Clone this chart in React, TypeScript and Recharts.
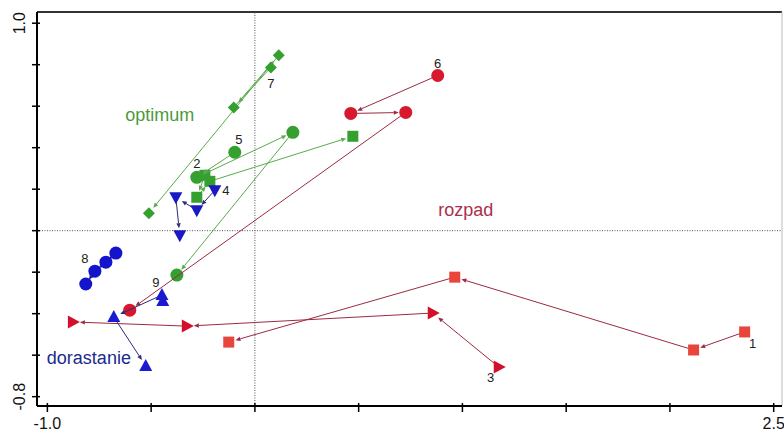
import React from "react";
import {
  ScatterChart,
  Scatter,
  XAxis,
  YAxis,
  ReferenceLine,
} from "recharts";

// trajectories, [axis 1, axis 2] in time order
const traj1 = [[2.36, -0.488], [2.114, -0.575], [0.963, -0.224], [-0.126, -0.537]];
const traj2 = [[-0.241, 0.267], [-0.28, 0.161], [-0.217, 0.238], [0.472, 0.455]];
const traj3 = [[1.175, -0.657], [0.857, -0.397], [-0.328, -0.46], [-0.877, -0.44]];
const traj4 = [[-0.193, 0.195], [-0.28, 0.099], [-0.381, 0.161], [-0.362, -0.022]];
const traj5 = [[-0.097, 0.378], [-0.28, 0.257], [0.183, 0.474], [-0.376, -0.214]];
const traj6 = [[0.881, 0.748], [0.462, 0.565], [0.727, 0.57], [-0.603, -0.383]];
const traj7 = [[0.077, 0.787], [-0.102, 0.594], [0.115, 0.845], [-0.511, 0.084]];
const traj8 = [[-0.67, -0.108], [-0.718, -0.152], [-0.771, -0.195], [-0.815, -0.257]];
const traj9 = [[-0.444, -0.339], [-0.448, -0.31], [-0.68, -0.416], [-0.526, -0.652]];

// which point of each trajectory carries its number
const tagIndex = [0, 0, 0, 0, 0, 0, 0, 2, 1];

const groupNames = ["optimum", "rozpad", "dorastanie"];
const groupPos = [[-0.458, 0.556], [1.016, 0.099], [-0.8, -0.614]];

const xTicks = [-1, -0.5, 0, 0.5, 1, 1.5, 2, 2.5];
const xTickLabels = ["-1.0", "", "", "", "", "", "", "2.5"];
const yTicks = [-0.8, -0.6, -0.4, -0.2, 0, 0.2, 0.4, 0.6, 0.8, 1.0];
const yTickLabels = ["-0.8", "", "", "", "", "", "", "", "", "1.0"];

const X_DOMAIN = [-1.05, 2.54];
const Y_DOMAIN = [-0.845, 1.054];
const FONT = "'Liberation Sans', Arial, sans-serif";

const RED_LINE = "#9c2a40";
const GREEN_LINE = "#5aaa4e";
const BLUE_LINE = "#2c2c78";

const styles = [
  { kind: "square", fill: "#e8453c", line: RED_LINE, dx: 8, dy: 12 },
  { kind: "square", fill: "#35a02f", line: GREEN_LINE, dx: -8, dy: -12 },
  { kind: "triRight", fill: "#d3102c", line: RED_LINE, dx: -8, dy: 11 },
  { kind: "triDown", fill: "#1a1ac4", line: BLUE_LINE, dx: 11, dy: 0 },
  { kind: "circle", fill: "#35a02f", line: GREEN_LINE, dx: 4, dy: -13 },
  { kind: "circle", fill: "#d8182c", line: RED_LINE, dx: 0, dy: -12 },
  { kind: "diamond", fill: "#35a02f", line: GREEN_LINE, dx: 0, dy: 16 },
  { kind: "circle", fill: "#1414cc", line: BLUE_LINE, dx: -10, dy: -13 },
  { kind: "triUp", fill: "#1a1ad0", line: BLUE_LINE, dx: -6, dy: -12 },
];
const groupColors = ["#4a9a3c", "#a8304c", "#1c2a8c"];

const trajectories = [traj1, traj2, traj3, traj4, traj5, traj6, traj7, traj8, traj9];

function toRows(pts: number[][], tagAt: number, tag: string) {
  return pts.map(([x, y], i) => ({ x, y, tag: i === tagAt ? tag : "" }));
}

function Marker(props: any) {
  const { cx, cy, kind, fill, dx, dy, payload } = props;
  let mark = null;
  if (kind === "circle") mark = <circle cx={cx} cy={cy} r={6.5} fill={fill} />;
  if (kind === "square")
    mark = <rect x={cx - 5.5} y={cy - 5.5} width={11} height={11} fill={fill} />;
  if (kind === "diamond")
    mark = (
      <polygon
        points={`${cx},${cy - 6} ${cx + 6},${cy} ${cx},${cy + 6} ${cx - 6},${cy}`}
        fill={fill}
      />
    );
  if (kind === "triUp")
    mark = (
      <polygon
        points={`${cx},${cy - 7} ${cx + 6.5},${cy + 5} ${cx - 6.5},${cy + 5}`}
        fill={fill}
      />
    );
  if (kind === "triDown")
    mark = (
      <polygon
        points={`${cx - 6.5},${cy - 5} ${cx + 6.5},${cy - 5} ${cx},${cy + 7}`}
        fill={fill}
      />
    );
  if (kind === "triRight")
    mark = (
      <polygon
        points={`${cx - 5},${cy - 6.5} ${cx + 7},${cy} ${cx - 5},${cy + 6.5}`}
        fill={fill}
      />
    );
  return (
    <g>
      {mark}
      {payload && payload.tag ? (
        <text
          x={cx + dx}
          y={cy + dy}
          textAnchor="middle"
          dominantBaseline="central"
          fontSize={13}
          fontFamily={FONT}
          fill="#222"
        >
          {payload.tag}
        </text>
      ) : null}
    </g>
  );
}

// segments between successive samples, each ending in a small arrowhead
function arrowPath(color: string) {
  return (props: any) => {
    const pts = props.points || [];
    const parts: any[] = [];
    for (let i = 0; i < pts.length - 1; i++) {
      const a = pts[i];
      const b = pts[i + 1];
      const dx = b.x - a.x;
      const dy = b.y - a.y;
      const len = Math.hypot(dx, dy);
      if (len < 2) continue;
      const ux = dx / len;
      const uy = dy / len;
      const gap = Math.min(7, len / 3);
      const tx = b.x - ux * gap;
      const ty = b.y - uy * gap;
      const bx = tx - ux * 5;
      const by = ty - uy * 5;
      parts.push(
        <line key={"l" + i} x1={a.x} y1={a.y} x2={bx} y2={by} stroke={color} strokeWidth={1} />
      );
      parts.push(
        <polygon
          key={"a" + i}
          points={`${tx},${ty} ${bx - uy * 2.2},${by + ux * 2.2} ${bx + uy * 2.2},${by - ux * 2.2}`}
          fill={color}
        />
      );
    }
    return <g>{parts}</g>;
  };
}

function XTick(props: any) {
  const { x, y, index } = props;
  const label = xTickLabels[index];
  return (
    <g>
      <line x1={x} x2={x} y1={y - 3} y2={y + 6} stroke="#000" strokeWidth={1.5} />
      {label ? (
        <text x={x} y={y + 23} textAnchor="middle" fontSize={16} fontFamily={FONT} fill="#111">
          {label}
        </text>
      ) : null}
    </g>
  );
}

function YTick(props: any) {
  const { x, y, index } = props;
  const label = yTickLabels[index];
  return (
    <g>
      <line x1={x - 5} x2={x + 3} y1={y} y2={y} stroke="#000" strokeWidth={1.5} />
      {label ? (
        <text
          x={20}
          y={y}
          textAnchor="middle"
          dominantBaseline="central"
          fontSize={16}
          fontFamily={FONT}
          fill="#111"
          transform={`rotate(-90, 20, ${y})`}
        >
          {label}
        </text>
      ) : null}
    </g>
  );
}

function GroupLabel(props: any) {
  const { cx, cy, payload } = props;
  return (
    <text
      x={cx}
      y={cy}
      textAnchor="middle"
      dominantBaseline="central"
      fontSize={18}
      fontFamily={FONT}
      fill={payload.color}
    >
      {payload.name}
    </text>
  );
}

export default function App() {
  const groupRows = groupNames.map((name, i) => ({
    x: groupPos[i][0],
    y: groupPos[i][1],
    name,
    color: groupColors[i],
  }));

  return (
    <div style={{ position: "absolute", left: 0, top: 0, background: "#fff" }}>
      <ScatterChart
        width={784}
        height={437}
        margin={{ top: 12, right: 2, bottom: 0, left: 0 }}
      >
        <XAxis
          type="number"
          dataKey="x"
          domain={X_DOMAIN}
          ticks={xTicks}
          interval={0}
          allowDataOverflow
          height={31}
          tickSize={0}
          tickMargin={0}
          tickLine={false}
          tick={<XTick />}
          axisLine={{ stroke: "#000", strokeWidth: 2 }}
        />
        <YAxis
          type="number"
          dataKey="y"
          domain={Y_DOMAIN}
          ticks={yTicks}
          interval={0}
          allowDataOverflow
          width={37}
          tickSize={0}
          tickMargin={0}
          tickLine={false}
          tick={<YTick />}
          axisLine={{ stroke: "#000", strokeWidth: 2 }}
        />
        <ReferenceLine y={Y_DOMAIN[1]} stroke="#333" strokeWidth={2} />
        <ReferenceLine x={X_DOMAIN[1]} stroke="#bbb" strokeWidth={1} />
        <ReferenceLine x={0} stroke="#555" strokeDasharray="1 1.5" />
        <ReferenceLine y={0} stroke="#555" strokeDasharray="1 1.5" />

        {trajectories.map((pts, i) => {
          const st = styles[i];
          return (
            <Scatter
              key={i}
              data={toRows(pts, tagIndex[i], String(i + 1))}
              isAnimationActive={false}
              line={arrowPath(st.line)}
              lineType="joint"
              shape={(p: any) => (
                <Marker {...p} kind={st.kind} fill={st.fill} dx={st.dx} dy={st.dy} />
              )}
            />
          );
        })}

        <Scatter data={groupRows} isAnimationActive={false} shape={<GroupLabel />} />
      </ScatterChart>
    </div>
  );
}
